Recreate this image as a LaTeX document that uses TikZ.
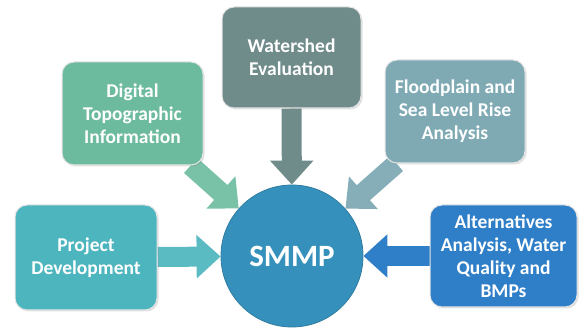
\documentclass[tikz,border=0pt]{standalone}
\usepackage{fontspec}
\setmainfont{Carlito}
\usetikzlibrary{arrows.meta,shadows,backgrounds}

\definecolor{digcol}{HTML}{6DBB9F}
\definecolor{watcol}{HTML}{6F8B8A}
\definecolor{floodcol}{HTML}{7FAAB4}
\definecolor{projcol}{HTML}{4DB5BE}
\definecolor{altcol}{HTML}{2F7FC8}
\definecolor{smmpcol}{HTML}{3591BB}

\begin{document}
\begin{tikzpicture}[x=1pt,y=-1pt,
  box/.style={rounded corners=12pt,draw=white!80!gray,line width=1pt,
    text=white,align=center,inner sep=2pt,
    font=\fontsize{19.5}{23}\selectfont\bfseries,
    drop shadow={opacity=.25,shadow xshift=1.5pt,shadow yshift=-1.5pt}},
  fat/.style={line width=20pt,-{Triangle[length=24pt 0 1,width=42pt 0 1]}}]
  \useasboundingbox (0,0) rectangle (579,328);
  % Boxes round the centre
  \node[box,fill=digcol,minimum width=141pt,minimum height=103pt]   (dig)   at (132.5,113.5) {Digital\\Topographic\\Information};
  \node[box,fill=watcol,minimum width=139pt,minimum height=101pt]   (wat)   at (291.5,57.5)  {Watershed\\Evaluation};
  \node[box,fill=floodcol,minimum width=140pt,minimum height=103pt] (flood) at (455,111.5)   {Floodplain and\\Sea Level Rise\\Analysis};
  \node[box,fill=projcol,minimum width=142pt,minimum height=105pt]  (proj)  at (86,257.5)    {Project\\Development};
  \node[box,fill=altcol,minimum width=147pt,minimum height=102pt]   (alt)   at (503.5,256)   {Alternatives\\Analysis, Water\\Quality and\\BMPs};
  \node[circle,fill=smmpcol,draw=smmpcol!85!black,line width=.8pt,minimum size=142pt,text=white,
        font=\fontsize{31}{36}\selectfont\bfseries] (smmp) at (292,256) {SMMP};
  % Arrows into SMMP
  \begin{scope}[on background layer]
    \draw[fat,digcol!92!white]   (dig)   -- (smmp);
    \draw[fat,watcol]            (wat)   -- (smmp);
    \draw[fat,floodcol!95!white] (flood) -- (smmp);
    \draw[fat,projcol!92!white]  (proj)  -- (smmp);
    \draw[fat,altcol]            (alt)   -- (smmp);
  \end{scope}
\end{tikzpicture}
\end{document}
